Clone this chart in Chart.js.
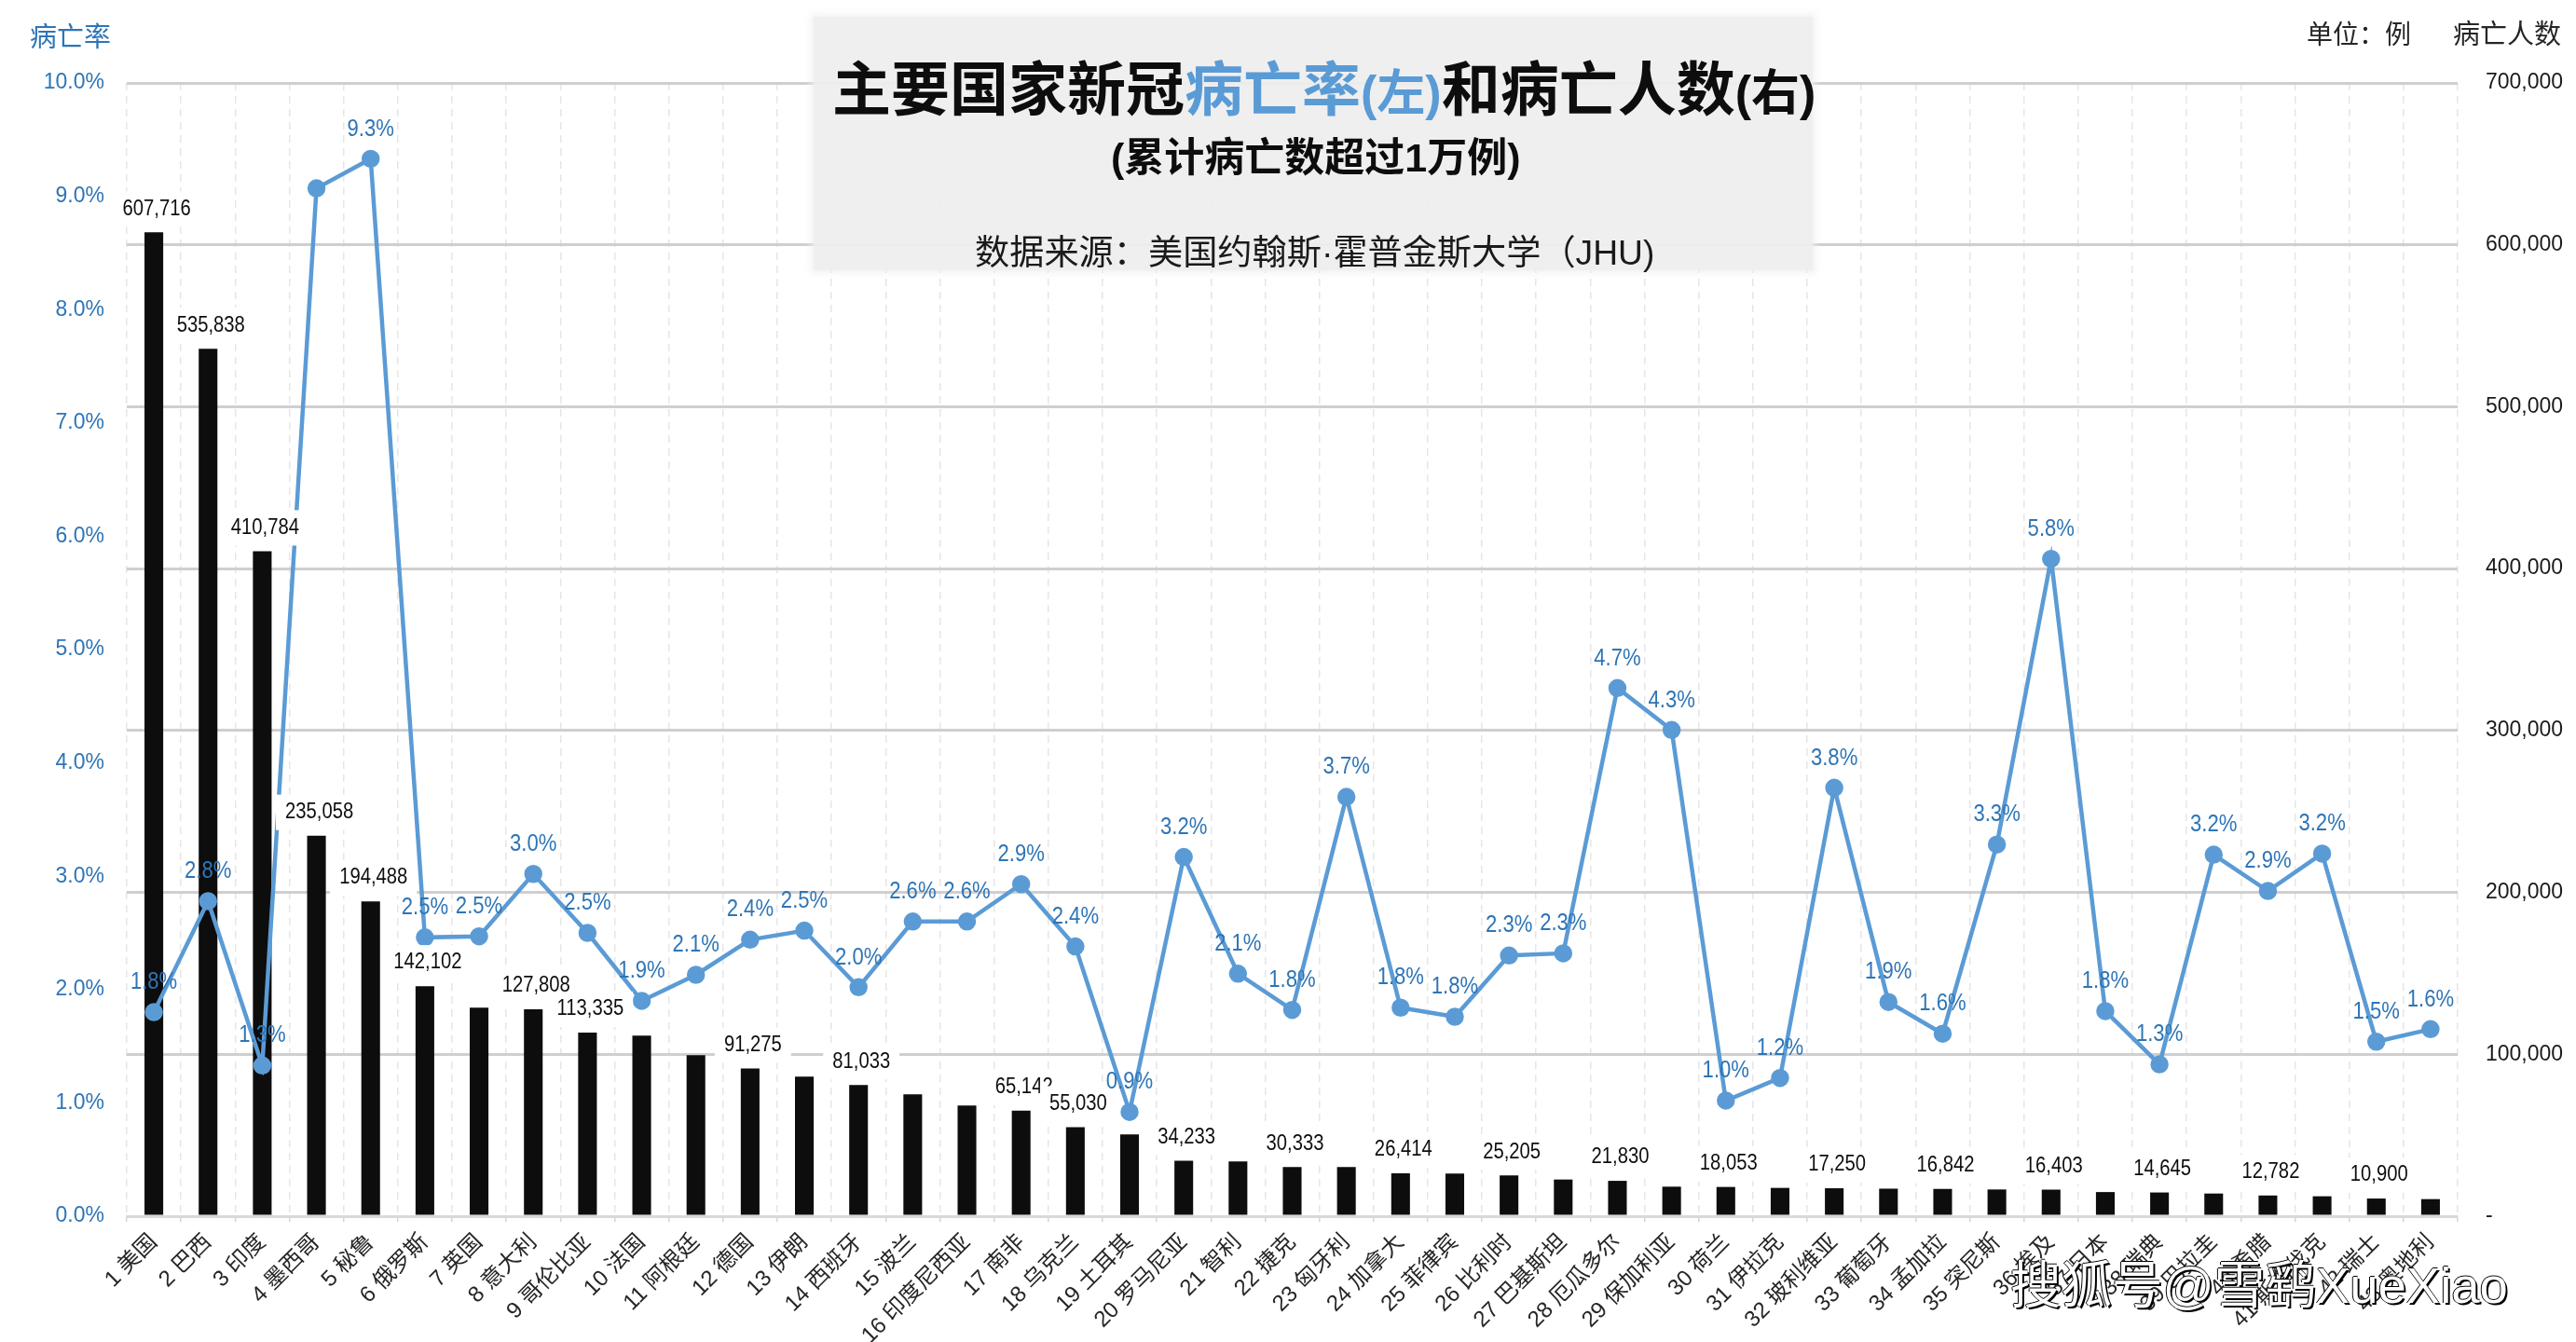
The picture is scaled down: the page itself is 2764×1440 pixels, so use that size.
<!DOCTYPE html>
<html>
<head>
<meta charset="utf-8">
<script src="https://cdn.jsdelivr.net/npm/chart.js@4/dist/chart.umd.min.js"></script>
<style>
  html, body { margin: 0; padding: 0; background: #fff; }
  #wrap { position: relative; width: 2764px; height: 1440px; overflow: hidden; font-family: "Liberation Sans", "Noto Sans CJK SC", sans-serif; }
  canvas { display: block; }
  .txt { position: absolute; white-space: pre; line-height: 1; }
  #panel { position: absolute; left: 873px; top: 18px; width: 1072px; height: 272px; background: rgba(238,238,238,.93); box-shadow: 0 0 7px 3px rgba(238,238,238,.8); }
  .blue { color: #5b9bd5; }
  .small { font-size: 52px; }
</style>
</head>
<body>
<div id="wrap">
  <canvas id="grafico" width="2764" height="1440"></canvas>
  <div id="panel"></div>
  <div class="txt" style="left:893px;top:65px;font-size:63px;font-weight:bold;color:#0d0d0d">主要国家新冠<span class="blue">病亡率<span class="small">(左)</span></span>和病亡人数<span class="small">(右)</span></div>
  <div class="txt" style="left:1192px;top:148px;font-size:43px;font-weight:bold;color:#0d0d0d">(累计病亡数超过1万例)</div>
  <div class="txt" style="left:1046px;top:253px;font-size:37.2px;color:#1a1a1a">数据来源：美国约翰斯·霍普金斯大学（JHU)</div>
  <div class="txt" style="left:32px;top:26px;font-size:29px;color:#2e75b6">病亡率</div>
  <div class="txt" style="left:2475px;top:24px;font-size:28px;color:#262626">单位：例</div>
  <div class="txt" style="left:2632px;top:23px;font-size:29px;color:#262626">病亡人数</div>
  <div class="txt" style="left:2157px;top:1353px;font-size:54.5px;color:#fff;text-shadow:2px 2px 0 #000,-1px 0 0 #000,0 -1px 0 #000">搜狐号@雪鹞XueXiao</div>
</div>
<script>
const categorias = ['1 美国','2 巴西','3 印度','4 墨西哥','5 秘鲁','6 俄罗斯','7 英国','8 意大利','9 哥伦比亚','10 法国',
  '11 阿根廷','12 德国','13 伊朗','14 西班牙','15 波兰','16 印度尼西亚','17 南非','18 乌克兰','19 土耳其','20 罗马尼亚',
  '21 智利','22 捷克','23 匈牙利','24 加拿大','25 菲律宾','26 比利时','27 巴基斯坦','28 厄瓜多尔','29 保加利亚','30 荷兰',
  '31 伊拉克','32 玻利维亚','33 葡萄牙','34 孟加拉','35 突尼斯','36 埃及','37 日本','38 瑞典','39 巴拉圭','40 希腊',
  '41 斯洛伐克','42 瑞士','43 奥地利'];

// 病亡人数 (右轴), 没有标注的柱子是从图上估的
const bingwang = [607716,535838,410784,235058,194488,142102,128800,127808,113335,111500,
  99400,91275,86150,81033,75200,68300,65142,55030,50470,34233,
  33780,30333,30300,26414,26300,25205,22650,21830,18240,18053,
  17470,17250,17000,16842,16500,16403,14900,14645,14000,12782,
  12300,10900,10550];

// 病亡率 % (左轴)
const tasa = [1.80,2.78,1.33,9.07,9.33,2.46,2.47,3.02,2.50,1.90,
  2.13,2.44,2.52,2.02,2.60,2.60,2.93,2.38,0.92,3.17,
  2.14,1.82,3.70,1.84,1.76,2.30,2.32,4.66,4.29,1.02,
  1.22,3.78,1.89,1.61,3.28,5.80,1.81,1.34,3.19,2.87,
  3.20,1.54,1.65];

// 哪些柱子有数字标注
const conEtiqueta = [1,2,3,4,5,6,8,9,12,14,17,18,20,22,24,26,28,30,32,34,36,38,40,42];
// 第4个点在原图没有标注
const sinPorcentaje = [4];

const fuente = '"Liberation Sans", "Noto Sans CJK SC"';

// el texto del original esta un poco comprimido a lo ancho
const estrecho = (ctx, txt, x, y, k) => {
  ctx.save();
  ctx.translate(x, y);
  ctx.scale(k, 1);
  ctx.fillText(txt, 0, 0);
  ctx.restore();
};

const etiquetas = {
  id: 'etiquetas',
  afterDatasetsDraw(chart) {
    const ctx = chart.ctx;
    const barras = chart.getDatasetMeta(0).data;
    const puntos = chart.getDatasetMeta(1).data;
    ctx.save();
    ctx.textAlign = 'center';
    ctx.textBaseline = 'middle';

    ctx.font = '23px ' + fuente;
    conEtiqueta.forEach(n => {
      const b = barras[n - 1];
      const txt = bingwang[n - 1].toLocaleString('en-US');
      const w = ctx.measureText(txt).width * 0.88 + 20;
      const cx = b.x + 3, cy = b.y - 25;
      ctx.fillStyle = '#fff';
      ctx.fillRect(cx - w / 2, cy - 19, w, 38);
      ctx.fillStyle = '#0d0d0d';
      estrecho(ctx, txt, cx, cy, 0.88);
    });

    ctx.font = '26px ' + fuente;
    ctx.fillStyle = '#2e75b6';
    puntos.forEach((p, i) => {
      if (sinPorcentaje.includes(i + 1)) return;
      estrecho(ctx, tasa[i].toFixed(1) + '%', p.x, p.y - 32, 0.85);
    });
    ctx.restore();
  }
};

const ctx = document.getElementById('grafico').getContext('2d');
new Chart(ctx, {
  type: 'bar',
  plugins: [etiquetas],
  data: {
    labels: categorias,
    datasets: [
      { type: 'bar', label: '病亡人数', data: bingwang, yAxisID: 'y1', backgroundColor: '#0d0d0d',
        categoryPercentage: 0.345, barPercentage: 1, order: 2 },
      { type: 'line', label: '病亡率', data: tasa, yAxisID: 'y', borderColor: '#5b9bd5', borderWidth: 4.5,
        pointBackgroundColor: '#5b9bd5', pointBorderColor: '#5b9bd5', pointRadius: 7.5, tension: 0, order: 1 }
    ]
  },
  options: {
    responsive: false,
    animation: false,
    devicePixelRatio: 1,
    layout: { padding: { top: 89, left: 0, right: 0, bottom: 0 } },
    plugins: { legend: { display: false }, tooltip: { enabled: false }, title: { display: false } },
    scales: {
      x: {
        offset: true,
        grid: { color: '#e6e6e6', lineWidth: 1.5, tickColor: '#d4d4d4', tickLength: 6, tickBorderDash: [], offset: true },
        border: { color: '#d9d9d9', width: 3, dash: [8, 6] },
        ticks: { autoSkip: false, minRotation: 45, maxRotation: 45, padding: 8, color: '#262626',
          font: { size: 24, family: fuente } },
        afterFit(s) { s.height = 135; }
      },
      y: {
        position: 'left', min: 0, max: 10,
        grid: { display: false },
        border: { display: false },
        ticks: { stepSize: 1, padding: 16, color: '#2e75b6', font: { size: 23, family: fuente },
          callback: v => v.toFixed(1) + '%' },
        afterFit(s) { s.width = 136; }
      },
      y1: {
        position: 'right', min: 0, max: 700000,
        grid: { color: '#d0cece', lineWidth: 3, drawTicks: false },
        border: { display: false },
        ticks: { stepSize: 100000, padding: 30, color: '#1a1a1a', font: { size: 23, family: fuente },
          callback: v => v === 0 ? '-' : v.toLocaleString('en-US') },
        afterFit(s) { s.width = 127; }
      }
    }
  }
});
</script>
</body>
</html>
